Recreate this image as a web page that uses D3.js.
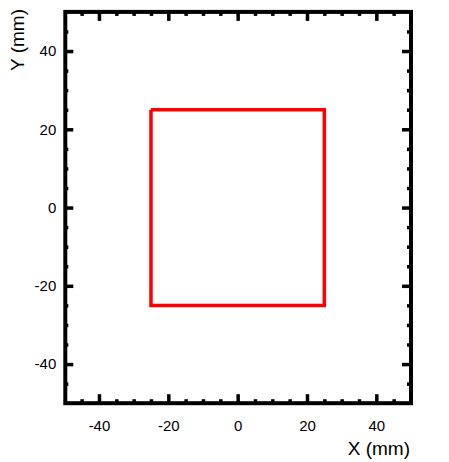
<!DOCTYPE html>
<html>
<head>
<meta charset="utf-8">
<script src="https://cdn.jsdelivr.net/npm/d3@7"></script>
<style>
  body { margin: 0; background: #fff; }
  text { font-family: "Liberation Sans", Arial, sans-serif; }
</style>
</head>
<body>
<svg id="chart" width="449" height="462"></svg>
<script>
// axis setup
const xDomain = [-50, 50]
const yDomain = [-50, 50]
const majorTicks = [-40, -20, 0, 20, 40]
const minorTicks = [-45, -35, -30, -25, -15, -10, -5, 5, 10, 15, 25, 30, 35, 45]
// red square outline (mm)
const squareX = [-25, 25, 25, -25, -25]
const squareY = [25, 25, -25, -25, 25]

var svg = d3.select('#chart')

var x = d3.scaleLinear().domain(xDomain).range([64.3, 411])
var y = d3.scaleLinear().domain(yDomain).range([403.2, 11.9])

// plain hyphen for negatives, like the original
var fmt = function (d) { return String(d) }

function styleAxis(g) {
	g.select('.domain').remove()
	g.selectAll('.tick line').attr('stroke', '#000').attr('stroke-width', 3.5)
	g.selectAll('.tick text').attr('font-size', 15).attr('fill', '#000')
}

// bottom
svg.append('g').attr('transform', 'translate(0,' + y(-50) + ')')
	.call(d3.axisBottom(x).tickValues(majorTicks).tickSize(-9).tickPadding(17).tickFormat(fmt))
	.call(styleAxis)
svg.append('g').attr('transform', 'translate(0,' + y(-50) + ')')
	.call(d3.axisBottom(x).tickValues(minorTicks).tickSize(-4).tickFormat(''))
	.call(styleAxis)
// top
svg.append('g').attr('transform', 'translate(0,' + y(50) + ')')
	.call(d3.axisTop(x).tickValues(majorTicks).tickSize(-9).tickFormat(''))
	.call(styleAxis)
svg.append('g').attr('transform', 'translate(0,' + y(50) + ')')
	.call(d3.axisTop(x).tickValues(minorTicks).tickSize(-4).tickFormat(''))
	.call(styleAxis)
// left
svg.append('g').attr('transform', 'translate(' + x(-50) + ',0)')
	.call(d3.axisLeft(y).tickValues(majorTicks).tickSize(-9).tickPadding(8).tickFormat(fmt))
	.call(styleAxis)
svg.append('g').attr('transform', 'translate(' + x(-50) + ',0)')
	.call(d3.axisLeft(y).tickValues(minorTicks).tickSize(-4).tickFormat(''))
	.call(styleAxis)
// right
svg.append('g').attr('transform', 'translate(' + x(50) + ',0)')
	.call(d3.axisRight(y).tickValues(majorTicks).tickSize(-9).tickFormat(''))
	.call(styleAxis)
svg.append('g').attr('transform', 'translate(' + x(50) + ',0)')
	.call(d3.axisRight(y).tickValues(minorTicks).tickSize(-4).tickFormat(''))
	.call(styleAxis)

// frame
svg.append('rect')
	.attr('x', x(-50) + 1)
	.attr('y', y(50))
	.attr('width', x(50) - x(-50) - 1)
	.attr('height', y(-50) - y(50))
	.attr('fill', 'none')
	.attr('stroke', '#000')
	.attr('stroke-width', 4)

// square
var pts = squareX.map(function (d, i) { return [x(d), y(squareY[i])] })
svg.append('path')
	.attr('d', d3.line()(pts))
	.attr('fill', 'none')
	.attr('stroke', '#ff0000')
	.attr('stroke-width', 3.5)

// axis titles
svg.append('text')
	.attr('x', 410).attr('y', 455)
	.attr('text-anchor', 'end')
	.attr('font-size', 19)
	.text('X (mm)')
svg.append('text')
	.attr('transform', 'translate(24,9) rotate(-90)')
	.attr('text-anchor', 'end')
	.attr('font-size', 19)
	.text('Y (mm)')
</script>
</body>
</html>
